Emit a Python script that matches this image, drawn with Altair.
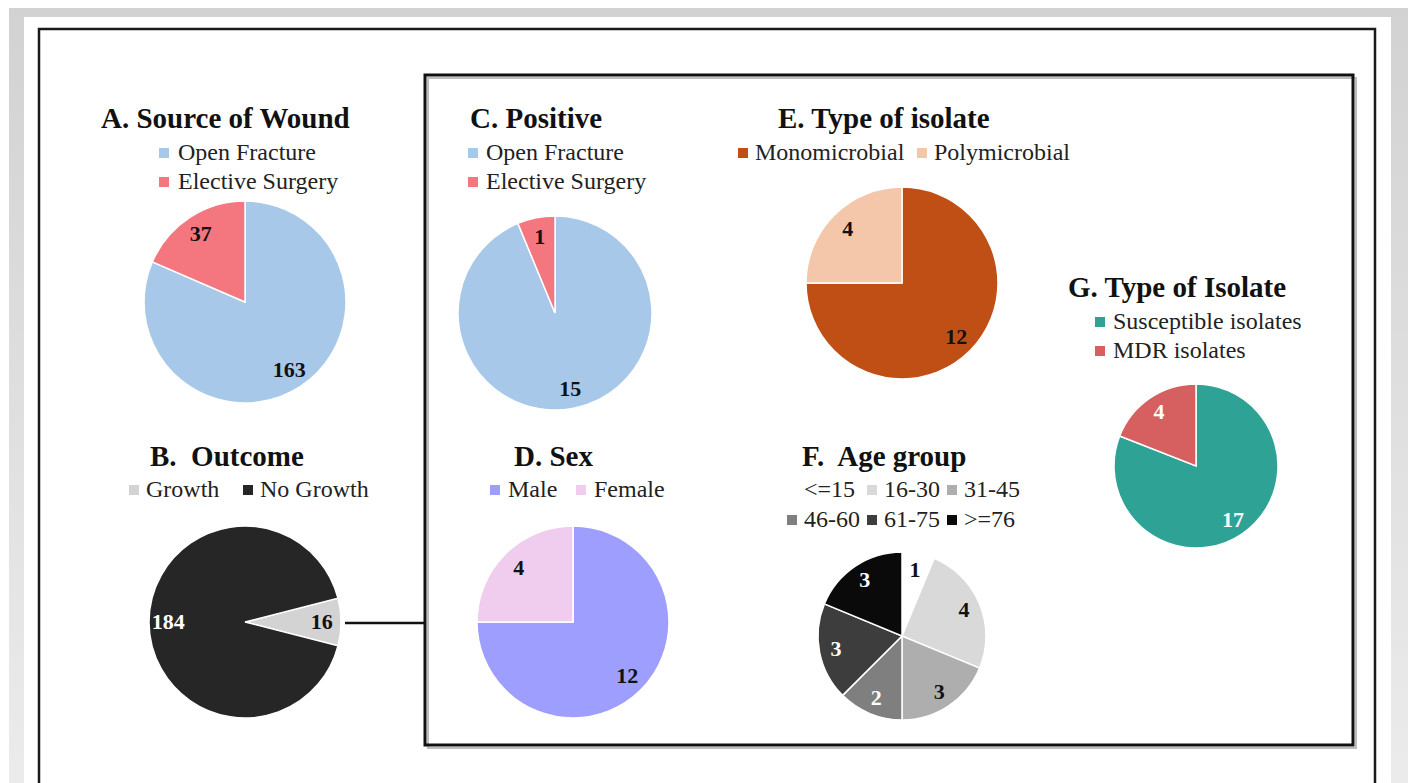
import math
import altair as alt
import pandas as pd

# ---------------- data ----------------
a_cats = ["Open Fracture", "Elective Surgery"]
a_vals = [163, 37]
b_cats = ["Growth", "No Growth"]
b_vals = [16, 184]
c_cats = ["Open Fracture", "Elective Surgery"]
c_vals = [15, 1]
d_cats = ["Male", "Female"]
d_vals = [12, 4]
e_cats = ["Monomicrobial", "Polymicrobial"]
e_vals = [12, 4]
f_cats = ["<=15", "16-30", "31-45", "46-60", "61-75", ">=76"]
f_vals = [1, 4, 3, 2, 3, 3]
g_cats = ["Susceptible isolates", "MDR isolates"]
g_vals = [17, 4]

titles = {
    "A": "A. Source of Wound",
    "B": "B.\u00a0 Outcome",
    "C": "C. Positive",
    "D": "D. Sex",
    "E": "E. Type of isolate",
    "F": "F.\u00a0 Age group",
    "G": "G. Type of Isolate",
}

SERIF = "Liberation Serif"
W, H = 1408, 783
one = pd.DataFrame({"k": [0]})


def pie(cats, vals, colors, label_colors, cx, cy, r, legend_kw, start=0.0):
    df = pd.DataFrame({"cat": cats, "value": vals,
                       "idx": list(range(len(cats))), "lc": label_colors})
    theta = alt.Theta("value:Q", stack="normalize",
                      scale=alt.Scale(range=[start, start + 2 * math.pi]))
    base = alt.Chart(df).encode(theta=theta, order=alt.Order("idx:Q"))
    leg = dict(orient="none", title=None, symbolType="square", symbolSize=100,
               symbolStrokeWidth=0, labelFont=SERIF, labelFontSize=24,
               labelColor="#222222", labelLimit=400)
    leg.update(legend_kw)
    arc = base.mark_arc(radius=r, stroke="white", strokeWidth=1.5).encode(
        x=alt.value(cx), y=alt.value(cy),
        color=alt.Color("cat:N", scale=alt.Scale(domain=cats, range=colors),
                        legend=alt.Legend(**leg)),
    )
    txt = base.mark_text(radius=r * 0.8, font=SERIF, fontSize=22,
                         fontWeight="bold", baseline="middle").encode(
        x=alt.value(cx), y=alt.value(cy), text="value:Q",
        color=alt.Color("lc:N", scale=None),
    )
    return alt.layer(arc, txt)


def title(t, x, y):
    return alt.Chart(one).mark_text(text=t, font=SERIF, fontSize=29, fontWeight="bold",
                                    align="left", baseline="alphabetic",
                                    color="#111111").encode(x=alt.value(x), y=alt.value(y))


def frame(x1, y1, x2, y2, sw, color="black"):
    return alt.Chart(one).mark_rect(fillOpacity=0, stroke=color, strokeWidth=sw).encode(
        x=alt.value(x1), x2=alt.value(x2), y=alt.value(y1), y2=alt.value(y2))


bg = alt.Chart(one).mark_rect(
    fill=alt.Gradient(gradient="linear", x1=0, y1=0, x2=0, y2=1,
                      stops=[alt.GradientStop(offset=0, color="#d2d2d2"),
                             alt.GradientStop(offset=1, color="#ececec")])
).encode(x=alt.value(9), x2=alt.value(1408), y=alt.value(8), y2=alt.value(800))
white = alt.Chart(one).mark_rect(fill="white").encode(
    x=alt.value(24), x2=alt.value(1391), y=alt.value(17), y2=alt.value(800))

outer = frame(39, 29, 1375, 805, 2.5, "#1a1a1a")
shadow = frame(428, 78, 1356, 748, 2, "#bdbdbd")
inner = frame(425, 75, 1353, 745, 3, "#111111")
connector = alt.Chart(one).mark_rule(color="#111111", strokeWidth=2.5).encode(
    x=alt.value(345), x2=alt.value(425), y=alt.value(623))

pA = pie(a_cats, a_vals, ["#a8c8ea", "#f4777f"], ["#111111", "#111111"], 245, 302, 101,
         dict(legendX=152, legendY=141, direction="vertical", labelOffset=2, rowPadding=5))
pB = pie(b_cats, b_vals, ["#d3d3d3", "#262626"], ["#111111", "#ffffff"], 245, 622, 96,
         dict(legendX=122, legendY=478, direction="horizontal", labelOffset=0,
              columnPadding=16), start=math.radians(90 - 14.4))
pC = pie(c_cats, c_vals, ["#a8c8ea", "#f4777f"], ["#111111", "#111111"], 555, 313, 97,
         dict(legendX=461, legendY=141, direction="vertical", labelOffset=1, rowPadding=5))
pD = pie(d_cats, d_vals, ["#9e9eff", "#f0cdee"], ["#111111", "#111111"], 573, 622, 96,
         dict(legendX=483, legendY=478, direction="horizontal", labelOffset=1,
              columnPadding=11))
pE = pie(e_cats, e_vals, ["#c04f15", "#f5c7aa"], ["#111111", "#111111"], 902, 283, 96,
         dict(legendX=731, legendY=141, direction="horizontal", labelOffset=0,
              columnPadding=5))
pF = pie(f_cats, f_vals, ["#ffffff", "#d9d9d9", "#aeaeae", "#7f7f7f", "#3d3d3d", "#0a0a0a"],
         ["#111111", "#111111", "#111111", "#ffffff", "#ffffff", "#ffffff"], 902, 636, 84,
         dict(legendX=780, legendY=478, direction="horizontal", columns=3, labelOffset=0,
              columnPadding=0, rowPadding=6))
pG = pie(g_cats, g_vals, ["#2ea395", "#d65f5f"], ["#ffffff", "#ffffff"], 1196, 466, 82,
         dict(legendX=1088, legendY=310, direction="vertical", labelOffset=1, rowPadding=5))

chart = alt.layer(
    bg, white, outer, shadow, inner, connector,
    title(titles["A"], 101, 128), title(titles["B"], 150, 466),
    title(titles["C"], 470, 128), title(titles["D"], 514, 466),
    title(titles["E"], 778, 128), title(titles["F"], 802, 466),
    title(titles["G"], 1068, 297),
    pA, pB, pC, pD, pE, pF, pG,
).resolve_scale(theta="independent", color="independent").properties(
    width=W, height=H, padding=0, autosize="none", background="white"
).configure_view(strokeWidth=0)

chart.save("out.html", embed_options={"renderer": "svg", "actions": False})
